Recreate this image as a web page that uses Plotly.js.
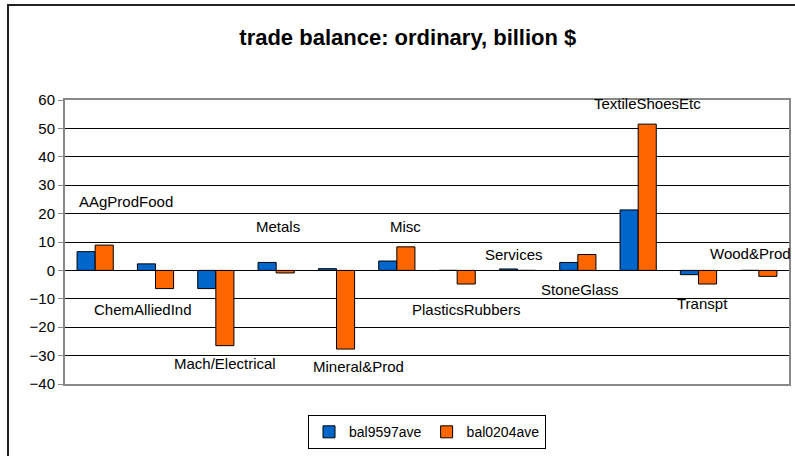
<!DOCTYPE html>
<html>
<head>
<meta charset="utf-8">
<script src="https://cdn.plot.ly/plotly-3.0.1.min.js"></script>
<style>
  html, body { margin: 0; padding: 0; background: #fff; }
  #chart { width: 795px; height: 456px; position: absolute; left: 0; top: 0; }
  #frame { position: absolute; left: 7px; top: 4px; width: 800px; height: 460px;
           border-left: 2px solid #222; border-top: 2px solid #222; pointer-events: none; }
</style>
</head>
<body>
<div id="chart"></div>
<div id="frame"></div>
<script>
const categories = ["AAgProdFood", "ChemAlliedInd", "Mach/Electrical", "Metals", "Mineral&Prod", "Misc",
  "PlasticsRubbers", "Services", "StoneGlass", "TextileShoesEtc", "Transpt", "Wood&Prod"];
const bal9597ave = [6.6, 2.3, -6.4, 2.8, 0.6, 3.3, 0.0, 0.5, 2.8, 21.3, -1.5, 0.0];
const bal0204ave = [8.9, -6.4, -26.5, -0.9, -27.7, 8.3, -4.8, 0.0, 5.6, 51.5, -4.8, -2.1];
const labelX = [0.51, 0.80, 2.15, 3.03, 4.36, 5.14, 6.15, 6.95, 8.04, 9.16, 10.06, 10.87];
const labelY = [24.3, -13.8, -32.9, 15.5, -33.8, 15.5, -13.8, 5.7, -6.6, 58.6, -11.7, 5.9];
const yTicks = [-40, -30, -20, -10, 0, 10, 20, 30, 40, 50, 60];

const font = "Liberation Sans, Arial, sans-serif";

const traces = [
  { type: "bar", name: "bal9597ave", x: categories, y: bal9597ave,
    marker: { color: "#0066CC", line: { color: "#000", width: 1 } } },
  { type: "bar", name: "bal0204ave", x: categories, y: bal0204ave,
    marker: { color: "#FF6600", line: { color: "#000", width: 1 } } }
];

const annotations = categories.map((c, i) => ({
  x: labelX[i], y: labelY[i], xref: "x", yref: "y", text: c, showarrow: false,
  font: { family: font, size: 15, color: "#000" }, xanchor: "center", yanchor: "middle"
}));

const layout = {
  width: 795, height: 456,
  margin: { l: 65, r: 6, t: 100, b: 72 },
  paper_bgcolor: "#fff", plot_bgcolor: "#fff",
  title: { text: "<b>trade balance: ordinary, billion $</b>", x: 0.513, xanchor: "center",
           y: 0.918, yanchor: "middle", font: { family: font, size: 22, color: "#000" } },
  barmode: "group", bargap: 0.4, bargroupgap: 0,
  showlegend: true,
  legend: { orientation: "h", x: 0.5, xanchor: "center", y: -0.11, yanchor: "top",
            bordercolor: "#000", borderwidth: 1, font: { family: font, size: 14, color: "#000" },
            itemwidth: 30, tracegroupgap: 0 },
  xaxis: { type: "category", showticklabels: false, showgrid: false, ticks: "",
           range: [-0.5, 11.5], showline: true, mirror: true, linecolor: "#888", linewidth: 2,
           zeroline: false },
  yaxis: { range: [-40, 60], tickvals: yTicks, showgrid: true, gridcolor: "#000", gridwidth: 1,
           zeroline: true, zerolinecolor: "#000", zerolinewidth: 1,
           showline: true, mirror: true, linecolor: "#888", linewidth: 2,
           ticks: "outside", ticklen: 5, tickcolor: "#888", tickwidth: 1,
           tickfont: { family: font, size: 15, color: "#000" } },
  annotations: annotations
};

Plotly.newPlot("chart", traces, layout, { displayModeBar: false, staticPlot: true });
</script>
</body>
</html>
